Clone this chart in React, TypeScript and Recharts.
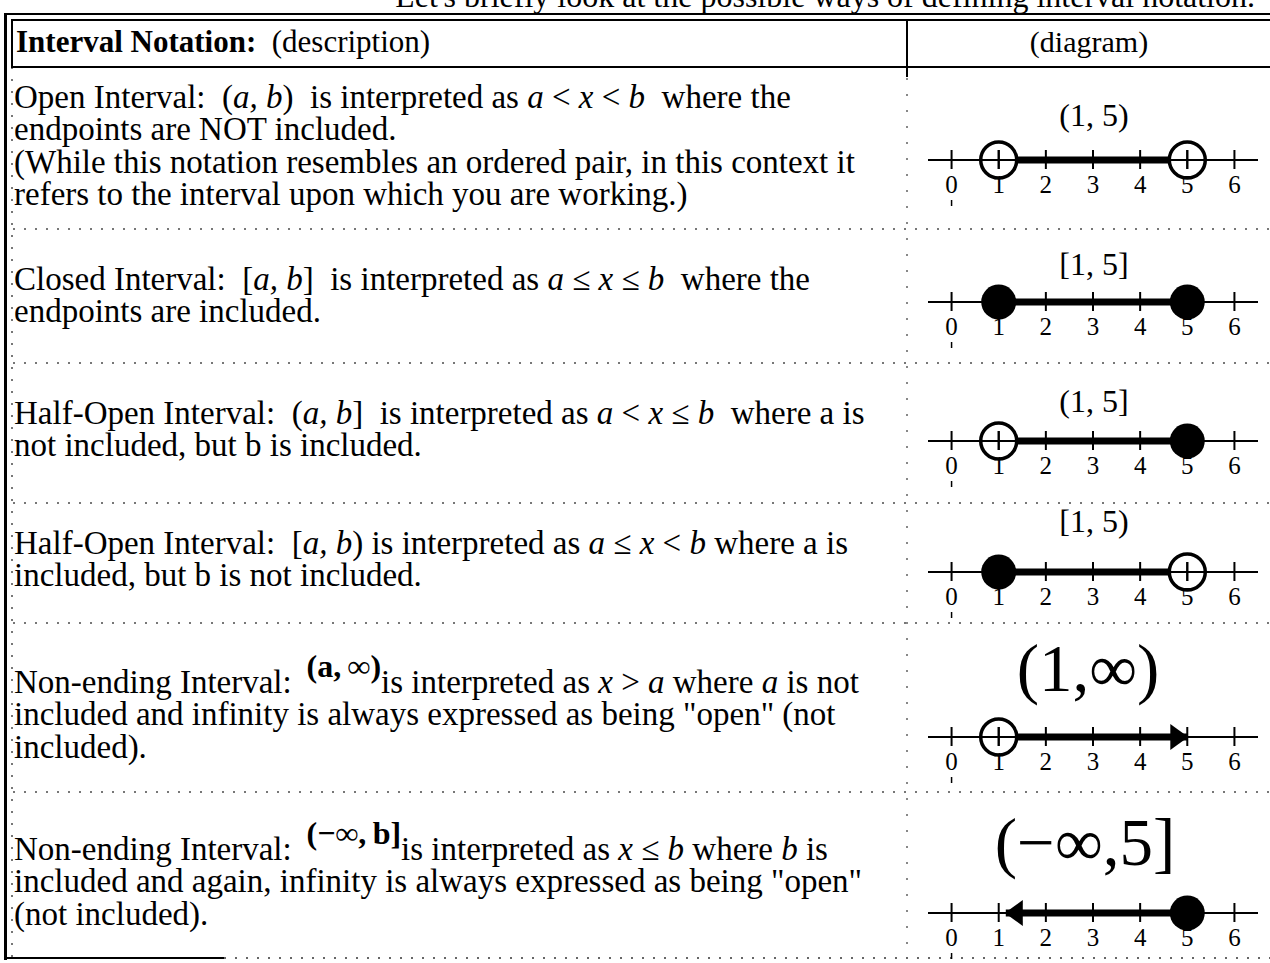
import React from "react";
import { ComposedChart, Line, XAxis, YAxis } from "recharts";

const SERIF = '"Liberation Serif", "Times New Roman", Times, serif';

// number line scale
const axisTicks = [0, 1, 2, 3, 4, 5, 6];
const axisDomain: [number, number] = [-0.5, 6.5];

// one entry per table row
const intervalLabels = ["(1, 5)", "[1, 5]", "(1, 5]", "[1, 5)", "(1,\u221E)", "(\u2212\u221E,5]"];
const intervalStarts = [1, 1, 1, 1, 1, 1.15];
const intervalEnds = [5, 5, 5, 5, 5, 5];
const startMarks = ["open", "closed", "open", "closed", "open", "arrowLeft"];
const endMarks = ["open", "closed", "closed", "open", "arrowRight", "closed"];

// page positions
const lineYs = [160, 302, 441, 572, 737, 913];
const labelYs = [117, 266, 403, 523, 672, 846];
const labelSizes = [32, 32, 32, 32, 67, 67];
const labelShift = [0, 0, 0, 0, -6, -9];
const rowTextYs = [99, 281, 415, 545, 684, 851];
const separatorYs = [228, 362, 502, 622, 791];

const CHART_LEFT = 918;
const CHART_W = 352;
const CHART_H = 70;
const AXIS_OFFSET = 24; // axis line y inside chart
const LINE_H = 32.6;
const BODY = 33;

const I = ({ children }: { children: React.ReactNode }) => <i>{children}</i>;

const eqStyle: React.CSSProperties = {
  fontWeight: 700,
  fontSize: 32,
  position: "relative",
  top: -16,
};

const descriptions: React.ReactNode[][] = [
  [
    <>Open Interval:{"  "}(<I>a, b</I>){"  "}is interpreted as <I>a</I> &lt; <I>x</I> &lt; <I>b</I>{"  "}where the</>,
    <>endpoints are NOT included.</>,
    <>(While this notation resembles an ordered pair, in this context it</>,
    <>refers to the interval upon which you are working.)</>,
  ],
  [
    <>Closed Interval:{"  "}[<I>a, b</I>]{"  "}is interpreted as <I>a</I> ≤ <I>x</I> ≤ <I>b</I>{"  "}where the</>,
    <>endpoints are included.</>,
  ],
  [
    <>Half-Open Interval:{"  "}(<I>a, b</I>]{"  "}is interpreted as <I>a</I> &lt; <I>x</I> ≤ <I>b</I>{"  "}where a is</>,
    <>not included, but b is included.</>,
  ],
  [
    <>Half-Open Interval:{"  "}[<I>a, b</I>) is interpreted as <I>a</I> ≤ <I>x</I> &lt; <I>b</I> where a is</>,
    <>included, but b is not included.</>,
  ],
  [
    <>Non-ending Interval:{" \u2009"}<span style={eqStyle}>(a,{"\u2009"}∞)</span>is interpreted as <I>x</I> &gt; <I>a</I> where <I>a</I> is not</>,
    <>included and infinity is always expressed as being "open" (not</>,
    <>included).</>,
  ],
  [
    <>Non-ending Interval:{" \u2009"}<span style={eqStyle}>(−∞,{"\u2009"}b]</span>is interpreted as <I>x</I> ≤ <I>b</I> where <I>b</I> is</>,
    <>included and again, infinity is always expressed as being "open"</>,
    <>(not included).</>,
  ],
];

function AxisTick(props: any) {
  const { x, y, payload } = props;
  return (
    <g>
      <line x1={x} x2={x} y1={y - 10} y2={y + 9} stroke="#000" strokeWidth={2} />
      <text x={x} y={y + 33} textAnchor="middle" fontSize={25} fontFamily={SERIF} fill="#000">
        {payload.value}
      </text>
      {payload.value === 0 && (
        <line x1={x} x2={x} y1={y + 40} y2={y + 47} stroke="#000" strokeWidth={1.5} />
      )}
    </g>
  );
}

function EndMark(props: any) {
  const { cx, cy, payload } = props;
  if (cx == null || cy == null) return null;
  const m = payload.mark;
  if (m === "closed") return <circle cx={cx} cy={cy} r={17.5} fill="#000" />;
  if (m === "open")
    return (
      <g>
        <circle cx={cx} cy={cy} r={18} fill="#fff" stroke="#000" strokeWidth={3.5} />
        <line x1={cx - 18} x2={cx + 18} y1={cy} y2={cy} stroke="#000" strokeWidth={2} />
        <line x1={cx} x2={cx} y1={cy - 10} y2={cy + 9} stroke="#000" strokeWidth={2} />
      </g>
    );
  if (m === "arrowRight")
    return <polygon points={`${cx + 1},${cy} ${cx - 17},${cy - 13} ${cx - 17},${cy + 13}`} fill="#000" />;
  if (m === "arrowLeft")
    return <polygon points={`${cx - 1},${cy} ${cx + 17},${cy - 13} ${cx + 17},${cy + 13}`} fill="#000" />;
  return null;
}

function NumberLine({ index }: { index: number }) {
  const data = [
    { x: intervalStarts[index], y: 0, mark: startMarks[index] },
    { x: intervalEnds[index], y: 0, mark: endMarks[index] },
  ];
  return (
    <ComposedChart
      width={CHART_W}
      height={CHART_H}
      data={data}
      margin={{ top: AXIS_OFFSET - 4, right: 12, bottom: 0, left: 10 }}
    >
      <XAxis
        type="number"
        dataKey="x"
        domain={axisDomain}
        ticks={axisTicks}
        interval={0}
        height={CHART_H - AXIS_OFFSET}
        tickLine={false}
        tickSize={0}
        tickMargin={0}
        tick={(p: any) => <AxisTick {...p} />}
        axisLine={{ stroke: "#000", strokeWidth: 2 }}
      />
      <YAxis type="number" dataKey="y" domain={[0, 1]} hide />
      <Line
        type="linear"
        dataKey="y"
        stroke="#000"
        strokeWidth={7}
        dot={(p: any) => <EndMark key={`m-${p.index}`} {...p} />}
        activeDot={false}
        isAnimationActive={false}
      />
    </ComposedChart>
  );
}

const dotsH = (top: number, left: number, width: number, color = "#777"): React.CSSProperties => ({
  position: "absolute",
  top,
  left,
  width,
  height: 1.5,
  background: `repeating-linear-gradient(to right, ${color} 0 2px, transparent 2px 11px)`,
});

export default function App() {
  return (
    <div
      style={{
        position: "absolute",
        left: 0,
        top: 0,
        width: 1270,
        height: 963,
        overflow: "hidden",
        background: "#fff",
        fontFamily: SERIF,
        color: "#000",
      }}
    >
      {/* lead-in sentence, mostly cut off at the top */}
      <div style={{ position: "absolute", right: 15, top: -20, fontSize: 32, lineHeight: "32px", whiteSpace: "pre" }}>
        Let's briefly look at the possible ways of defining interval notation.
      </div>

      {/* outer frame */}
      <div style={{ position: "absolute", top: 13, left: 4, width: 1266, height: 2, background: "#000" }} />
      <div style={{ position: "absolute", top: 19, left: 11, width: 1259, height: 2, background: "#000" }} />
      <div style={{ position: "absolute", top: 13, left: 4, width: 3, height: 947, background: "#000" }} />
      <div style={{ position: "absolute", top: 19, left: 11, width: 1.5, height: 48, background: "#000" }} />
      <div
        style={{
          position: "absolute",
          top: 67,
          left: 11,
          width: 1.5,
          height: 890,
          background: "repeating-linear-gradient(to bottom, #777 0 2px, transparent 2px 12px)",
        }}
      />
      <div style={{ position: "absolute", top: 66, left: 11, width: 1259, height: 2, background: "#000" }} />
      <div style={{ position: "absolute", top: 19, left: 906, width: 2, height: 58, background: "#000" }} />
      <div
        style={{
          position: "absolute",
          top: 78,
          left: 906,
          width: 1.5,
          height: 880,
          background: "repeating-linear-gradient(to bottom, #888 0 2px, transparent 2px 16px)",
        }}
      />
      <div style={{ position: "absolute", top: 957, left: 4, width: 220, height: 2, background: "#000" }} />
      <div style={dotsH(957, 224, 1046, "#666")} />

      {/* header */}
      <div style={{ position: "absolute", left: 16, top: 26, fontSize: 31, lineHeight: "32px", whiteSpace: "pre" }}>
        <b>Interval Notation:</b>{"  "}(description)
      </div>
      <div
        style={{
          position: "absolute",
          left: 908,
          width: 362,
          top: 26,
          fontSize: 30,
          lineHeight: "32px",
          textAlign: "center",
        }}
      >
        (diagram)
      </div>

      {separatorYs.map((y, i) => (
        <div key={`sep-${i}`} style={dotsH(y, 13, 1257)} />
      ))}

      {/* descriptions */}
      {descriptions.map((lines, r) =>
        lines.map((content, j) => (
          <div
            key={`d-${r}-${j}`}
            style={{
              position: "absolute",
              left: 14,
              top: rowTextYs[r] + j * LINE_H - 18.5,
              fontSize: BODY,
              lineHeight: "32px",
              whiteSpace: "pre",
            }}
          >
            {content}
          </div>
        ))
      )}

      {/* diagrams */}
      {intervalLabels.map((label, r) => (
        <React.Fragment key={`g-${r}`}>
          <div
            style={{
              position: "absolute",
              left: CHART_LEFT + labelShift[r],
              width: CHART_W,
              top: labelYs[r] - labelSizes[r] * 0.6,
              fontSize: labelSizes[r],
              lineHeight: `${labelSizes[r] * 1.1}px`,
              textAlign: "center",
              whiteSpace: "pre",
            }}
          >
            {label}
          </div>
          <div style={{ position: "absolute", left: CHART_LEFT, top: lineYs[r] - AXIS_OFFSET }}>
            <NumberLine index={r} />
          </div>
        </React.Fragment>
      ))}
    </div>
  );
}
